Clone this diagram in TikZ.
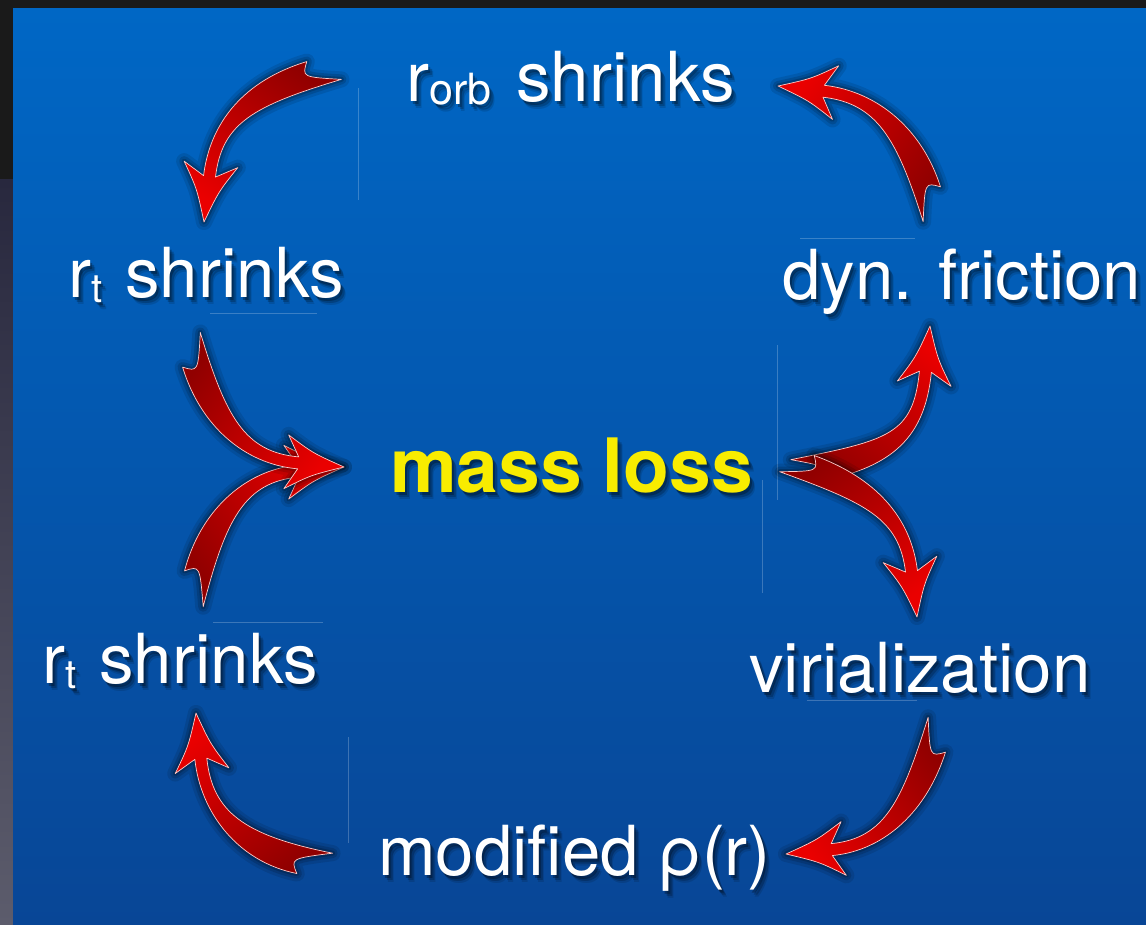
\documentclass[tikz,border=0pt]{standalone}
\usepackage{fontspec}
\setmainfont{TeX Gyre Heros}
\usetikzlibrary{calc}

\definecolor{bgtop}{RGB}{0,103,197}
\definecolor{bgbot}{RGB}{8,70,150}
\definecolor{framedark}{RGB}{26,26,26}
\definecolor{framelow}{RGB}{40,40,62}
\definecolor{framebot}{RGB}{92,92,108}
\definecolor{arrtail}{RGB}{145,0,0}
\definecolor{arrhead}{RGB}{234,0,0}
\definecolor{lossyellow}{RGB}{248,236,0}

\tikzset{
  lbl/.style={anchor=base west, inner sep=0pt, text=white, font=\fontsize{69}{80}\selectfont},
  keylbl/.style={anchor=base west, inner sep=0pt, text=lossyellow, font=\bfseries\fontsize{75}{86}\selectfont},
  faint/.style={white, opacity=0.22, line width=1pt},
  arrowrim/.style={draw=white!80!red, line width=0.7pt, line join=round},
}

% subscripts set in a smaller size, lowered below the baseline
\newcommand\subtxt[3]{\raisebox{-#2}{\fontsize{#3}{#3}\selectfont #1}}

% label with a soft dark shadow: #1 position, #2 name, #3 style, #4 text
\newcommand\shadowtext[4]{%
  \foreach \dx/\dy/\op [count=\k] in {2/3/0.28, 4/5/0.20, 5/7/0.12}
    \node[#3, text=black, opacity=\op] (#2-sh\k) at ($(#1)+(\dx,\dy)$) {#4};
  \node[#3] (#2) at (#1) {#4};
}

% tapered curved arrow with swallow tail:
% #1 tail centre, #2 first control, #3 second control, #4 tip,
% #5 extra length of the left tail spike, #6 of the right one, #7 name
\newcommand\flowarrow[7]{%
  \coordinate (#7-T) at (#1);
  \coordinate (#7-c1) at (#2);
  \coordinate (#7-c2) at (#3);
  \coordinate (#7-P) at (#4);
  \coordinate (#7-B) at ($(#7-P)!46pt!(#7-c2)$);
  \coordinate (#7-Bb) at ($(#7-P)!58pt!(#7-c2)$);
  \coordinate (#7-TL) at ($(#7-T)!13.5pt!90:(#7-c1)$);
  \coordinate (#7-TR) at ($(#7-T)!13.5pt!-90:(#7-c1)$);
  \coordinate (#7-C1L) at ($(#7-TL)+(#7-c1)-(#7-T)$);
  \coordinate (#7-C1R) at ($(#7-TR)+(#7-c1)-(#7-T)$);
  \coordinate (#7-TLx) at ($(#7-TL)!-#5pt!(#7-C1L)$);
  \coordinate (#7-TRx) at ($(#7-TR)!-#6pt!(#7-C1R)$);
  \coordinate (#7-BL) at ($(#7-B)!6pt!90:(#7-P)$);
  \coordinate (#7-BR) at ($(#7-B)!6pt!-90:(#7-P)$);
  \coordinate (#7-C2L) at ($(#7-BL)+(#7-c2)-(#7-B)$);
  \coordinate (#7-C2R) at ($(#7-BR)+(#7-c2)-(#7-B)$);
  \coordinate (#7-HL) at ($(#7-Bb)!27pt!90:(#7-P)$);
  \coordinate (#7-HR) at ($(#7-Bb)!27pt!-90:(#7-P)$);
  \coordinate (#7-hL) at ($(#7-P)!0.5!(#7-HL)!4pt!(#7-B)$);
  \coordinate (#7-hR) at ($(#7-P)!0.5!(#7-HR)!4pt!(#7-B)$);
  \coordinate (#7-N) at ($(#7-T)!9pt!(#7-c1)$);
  \def\arrowpath{(#7-TLx) .. controls (#7-C1L) and (#7-C2L) .. (#7-BL) -- (#7-HL)
    .. controls (#7-hL) .. (#7-P) .. controls (#7-hR) .. (#7-HR) -- (#7-BR)
    .. controls (#7-C2R) and (#7-C1R) .. (#7-TRx) .. controls (#7-N) .. (#7-TLx) -- cycle}%
  \pgfmathanglebetweenpoints{\pgfpointanchor{#7-T}{center}}{\pgfpointanchor{#7-P}{center}}%
  \pgfmathsetmacro\flowang{\pgfmathresult-90}%
  \begin{scope}[shift={(14,15)}]
    \foreach \lw/\op in {16/0.10, 10/0.14, 5/0.2, 0.5/0.34}
      \path[fill=black, draw=black, line width=\lw pt, line join=round, opacity=\op] \arrowpath;
  \end{scope}
  \path[top color=arrhead, bottom color=arrtail, shading angle=\flowang, arrowrim] \arrowpath;
}

\begin{document}
\begin{tikzpicture}[x=1pt,y=-1pt]
\useasboundingbox (0,0) rectangle (1146,925);

% window frame and slide background
\fill[framedark] (0,0) rectangle (1146,925);
\shade[top color=framelow, bottom color=framebot] (0,180) rectangle (13,925);
\shade[top color=bgtop, bottom color=bgbot] (13,9) rectangle (1146,925);

% leftover edges of text boxes
\draw[faint] (358,88) -- (358,200);
\draw[faint] (762,480) -- (762,593);
\draw[faint] (777,345) -- (777,500);
\draw[faint] (348,737) -- (348,843);
\draw[faint] (800,239) -- (915,239);
\draw[faint] (210,314) -- (317,314);
\draw[faint] (213,622) -- (323,622);
\draw[faint] (807,700) -- (917,700);

% labels
\shadowtext{406,101.5}{orb}{lbl}{r\subtxt{orb}{3.5pt}{43}\kern6pt{} shrinks}
\shadowtext{68,298}{rtup}{lbl}{r\subtxt{t}{5pt}{40}\kern4pt{} shrinks}
\shadowtext{782,300}{dyn}{lbl}{dyn. friction}
\shadowtext{390,492}{loss}{keylbl}{mass loss}
\shadowtext{42,683}{rtlow}{lbl}{r\subtxt{t}{5pt}{40}\kern4pt{} shrinks}
\shadowtext{749,692}{vir}{lbl}{virialization}
\shadowtext{378,875}{rho}{lbl}{modified ρ(r)}

% the feedback loop
\flowarrow{310.7,74.5}{248.4,93.2}{216,122.7}{204,222}{28}{0}{a1}
\flowarrow{197.6,574.3}{212.6,516}{244,476}{344,467}{0}{30}{a3}
\flowarrow{195.5,363.2}{213,421}{244,458}{344,467}{28}{0}{a2}
\flowarrow{818,468}{891.5,453.3}{919,435.5}{930,326}{25}{0}{a4}
\flowarrow{809.6,468.2}{870.7,490.3}{905,517.7}{917,617}{0}{27}{a5}
\flowarrow{927.6,190.9}{909.6,133.7}{877.3,97.4}{778,86}{28}{0}{a6}
\flowarrow{932.6,748.1}{914.6,805.3}{885.5,844.4}{786,854}{0}{28}{a7}
\flowarrow{299.5,860.3}{240.7,848.5}{206.5,812.4}{196,713}{0}{31}{a8}
\end{tikzpicture}
\end{document}
